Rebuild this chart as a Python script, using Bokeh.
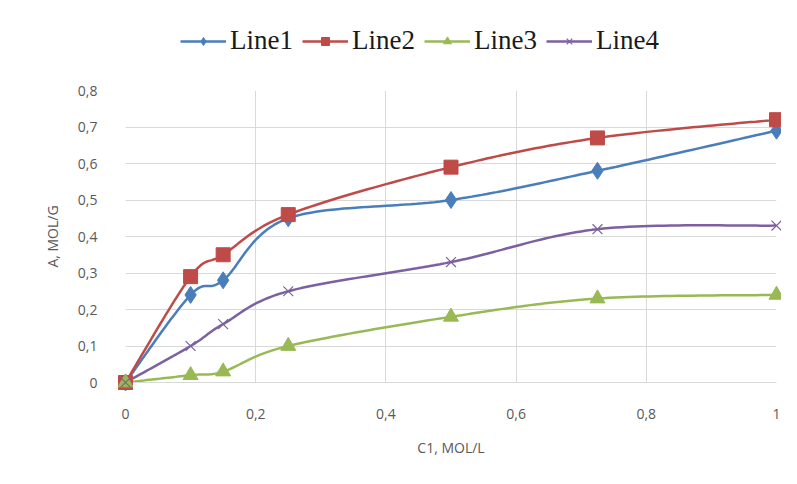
import numpy as np
from bokeh.plotting import figure
from bokeh.layouts import column
from bokeh.models import Legend, LegendItem, FixedTicker, CustomJSTickFormatter
from bokeh.embed import file_html
from bokeh.resources import INLINE

x_vals = [0, 0.1, 0.15, 0.25, 0.5, 0.725, 1]
line1 = [0, 0.24, 0.28, 0.45, 0.50, 0.58, 0.69]
line2 = [0, 0.29, 0.35, 0.46, 0.59, 0.67, 0.72]
line3 = [0, 0.02, 0.03, 0.10, 0.18, 0.23, 0.24]
line4 = [0, 0.10, 0.16, 0.25, 0.33, 0.42, 0.43]
names = ["Line1", "Line2", "Line3", "Line4"]
x_ticks = [0, 0.2, 0.4, 0.6, 0.8, 1.0]
y_ticks = [0, 0.1, 0.2, 0.3, 0.4, 0.5, 0.6, 0.7, 0.8]

colors = ["#4A7EBB", "#BE4B48", "#98B954", "#7D60A0"]
markers = ["diamond", "square", "triangle", "x"]
msizes = [17, 14, 15, 14]


def smooth(xs, ys, steps=30):
    """Excel-like smoothed curve (cubic Bezier segments through the data points)."""
    P = np.column_stack([xs, ys]).astype(float)
    n = len(P)
    t = np.linspace(0, 1, steps)[:, None]
    out = [P[:1]]
    for i in range(n - 1):
        p0 = P[max(i - 1, 0)]
        p1 = P[i]
        p2 = P[i + 1]
        p3 = P[min(i + 2, n - 1)]
        c1 = p1 + (p2 - p0) / 6.0
        c2 = p2 - (p3 - p1) / 6.0
        seg = ((1 - t) ** 3) * p1 + 3 * ((1 - t) ** 2) * t * c1 + 3 * (1 - t) * (t ** 2) * c2 + (t ** 3) * p2
        out.append(seg[1:])
    pts = np.vstack(out)
    return pts[:, 0], pts[:, 1]


def draw_series(fig, ys, c, m, s):
    sx, sy = smooth(x_vals, ys)
    ln = fig.line(sx, sy, line_color=c, line_width=2.5)
    if m == "x":
        sc = fig.scatter(x_vals, ys, marker=m, size=s, line_color=c, line_width=1.2)
    else:
        sc = fig.scatter(x_vals, ys, marker=m, size=s, fill_color=c, line_color=c)
    sc.level = "overlay"
    return ln, sc


# ---- main chart ----
p = figure(width=781, height=398, x_range=(0, 1), y_range=(0, 0.8),
           output_backend="svg", toolbar_location=None,
           min_border_left=125, min_border_right=5,
           min_border_top=20, min_border_bottom=86)
p.outline_line_color = None
p.background_fill_color = "white"
p.border_fill_color = "white"

for ax in (p.xaxis[0], p.yaxis[0]):
    ax.major_tick_line_color = None
    ax.minor_tick_line_color = None
    ax.major_label_text_font = "Open Sans"
    ax.major_label_text_font_size = "14px"
    ax.major_label_text_color = "#595959"
    ax.axis_label_text_font = "Open Sans"
    ax.axis_label_text_font_size = "14px"
    ax.axis_label_text_color = "#595959"
    ax.axis_label_text_font_style = "normal"
    ax.formatter = CustomJSTickFormatter(code="return tick.toFixed(1).replace('.0','').replace('.', ',');")

p.xaxis[0].ticker = FixedTicker(ticks=x_ticks)
p.yaxis[0].ticker = FixedTicker(ticks=y_ticks)
p.xaxis[0].axis_label = "C1, MOL/L"
p.yaxis[0].axis_label = "A, MOL/G"
p.xaxis[0].axis_line_color = "#D9D9D9"
p.yaxis[0].axis_line_color = None
p.xaxis[0].major_label_standoff = 20
p.yaxis[0].major_label_standoff = 22
p.xaxis[0].axis_label_standoff = 16
p.yaxis[0].axis_label_standoff = 13

p.xgrid[0].ticker = FixedTicker(ticks=x_ticks)
p.ygrid[0].ticker = FixedTicker(ticks=y_ticks)
p.xgrid.grid_line_color = "#D9D9D9"
p.ygrid.grid_line_color = "#D9D9D9"

for ys, c, m, s in zip([line1, line2, line3, line4], colors, markers, msizes):
    draw_series(p, ys, c, m, s)

# ---- legend strip above the chart (same series, outside its visible range) ----
leg = figure(width=781, height=70, x_range=(-3, -2), y_range=(-3, -2),
             x_axis_type=None, y_axis_type=None,
             output_backend="svg", toolbar_location=None,
             min_border_left=0, min_border_right=0, min_border_top=0, min_border_bottom=0)
leg.outline_line_color = None
leg.background_fill_color = "white"
leg.border_fill_color = "white"

items = []
for ys, name, c, m, s in zip([line1, line2, line3, line4], names, colors, markers, msizes):
    ln, sc = draw_series(leg, ys, c, m, s)
    items.append(LegendItem(label=name, renderers=[ln, sc]))

legend = Legend(items=items, location=(55, 14), orientation="horizontal",
                label_text_font="Liberation Serif", label_text_font_size="27px",
                label_text_color="#1a1a1a",
                glyph_width=46, glyph_height=20, label_standoff=4, spacing=9,
                padding=0, margin=0, border_line_color=None, background_fill_alpha=0)
leg.add_layout(legend, "center")

layout = column(leg, p, spacing=0)
open("out.html", "w").write(file_html(layout, INLINE))
